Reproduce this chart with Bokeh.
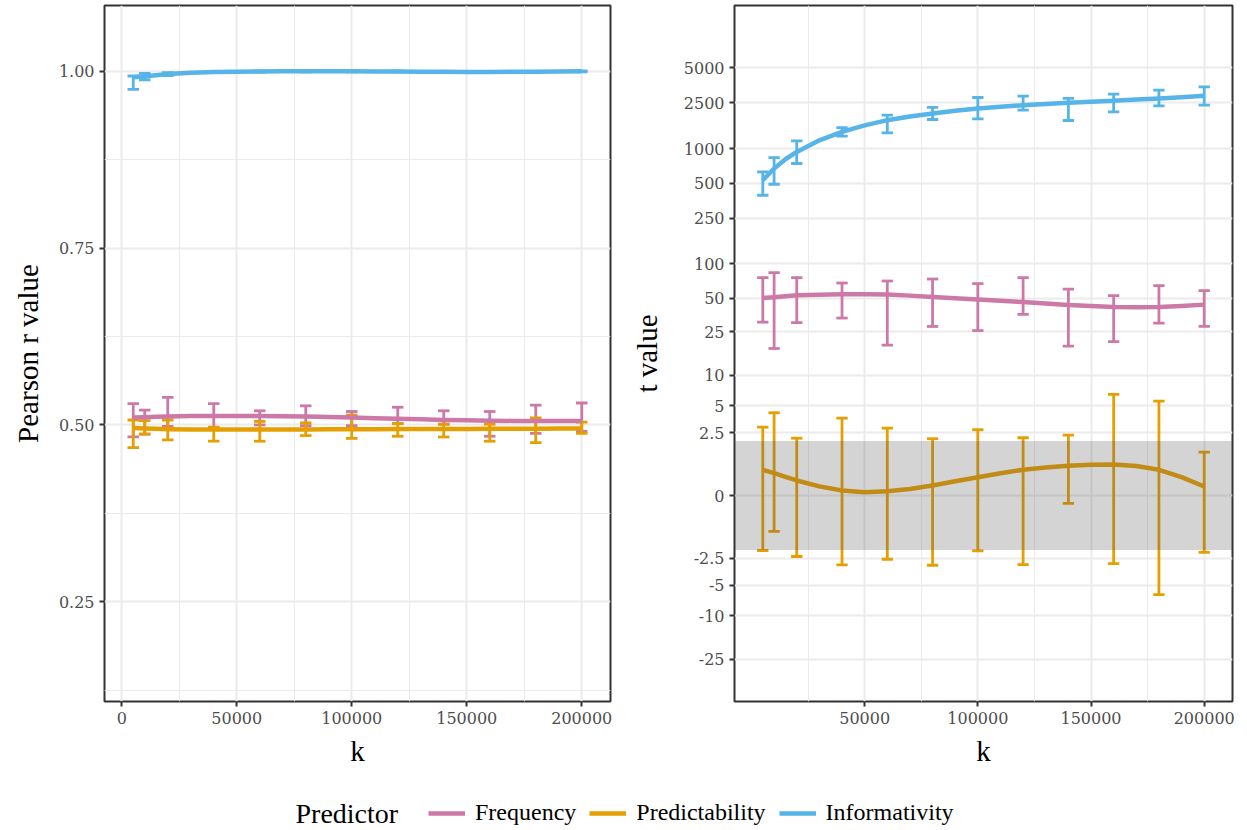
import numpy as np
from bokeh.plotting import figure
from bokeh.models import (Range1d, FixedTicker, NumeralTickFormatter, BoxAnnotation,
                          Legend, LegendItem, Label, ColumnDataSource)
from bokeh.layouts import column, row
from bokeh.embed import file_html
from bokeh.resources import INLINE

# ---------------- data ----------------
k = [5000, 10000, 20000, 40000, 60000, 80000, 100000, 120000, 140000, 160000, 180000, 200000]
predictors = ["Frequency", "Predictability", "Informativity"]
colors = {"Frequency": "#CC79A7", "Predictability": "#E69F00", "Informativity": "#56B4E9"}

# Pearson r error bars (lower / upper)
r_freq_lo = [0.483, 0.487, 0.498, 0.496, 0.500, 0.499, 0.499, 0.502, 0.501, 0.484, 0.488, 0.491]
r_freq_hi = [0.530, 0.521, 0.539, 0.530, 0.520, 0.527, 0.519, 0.525, 0.520, 0.519, 0.528, 0.531]
r_pred_lo = [0.468, 0.487, 0.479, 0.477, 0.477, 0.485, 0.481, 0.484, 0.483, 0.477, 0.475, 0.488]
r_pred_hi = [0.507, 0.506, 0.507, 0.497, 0.505, 0.503, 0.514, 0.502, 0.501, 0.501, 0.510, 0.504]
r_info_lo = [0.9745, 0.988, 0.994, 0.9985, 0.9990, 0.9992, 0.9993, 0.9993, 0.9990, 0.9988, 0.9990, 0.9993]
r_info_hi = [0.9933, 0.997, 0.998, 1.0000, 1.0005, 1.0006, 1.0006, 1.0004, 1.0000, 0.9998, 1.0000, 1.0005]

# smoothed fits
fit_k = [5000, 10000, 15000, 20000, 30000, 40000, 50000, 60000, 70000, 80000, 90000,
         100000, 110000, 120000, 130000, 140000, 150000, 160000, 170000, 180000, 190000, 200000]
r_freq_fit = [0.5104, 0.5110, 0.5115, 0.5120, 0.5125, 0.5128, 0.5128, 0.5125, 0.5122, 0.5118, 0.5112,
              0.5104, 0.5096, 0.5088, 0.5080, 0.5071, 0.5065, 0.5060, 0.5057, 0.5055, 0.5056, 0.5057]
r_pred_fit = [0.4955, 0.4950, 0.4945, 0.4940, 0.4937, 0.4935, 0.4935, 0.4935, 0.4936, 0.4937, 0.4938,
              0.4939, 0.4940, 0.4941, 0.4942, 0.4943, 0.4944, 0.4945, 0.4946, 0.4947, 0.4948, 0.4948]
r_info_fit = [0.9915, 0.9930, 0.9945, 0.9960, 0.9980, 0.9990, 0.9995, 0.9998, 1.0000, 1.0000, 1.0000,
              1.0000, 0.9998, 0.9996, 0.9994, 0.9992, 0.9991, 0.9991, 0.9992, 0.9994, 0.9997, 1.0000]

# t value error bars (lower / upper)
t_freq_lo = [30.6, 17.7, 30.3, 33.3, 19.0, 28.0, 25.7, 35.9, 18.6, 20.4, 30.0, 28.0]
t_freq_hi = [75.7, 83.7, 75.7, 67.9, 70.7, 73.6, 67.1, 75.7, 60.1, 52.6, 64.5, 58.2]
t_pred_lo = [-1.99, -1.04, -2.37, -2.98, -2.56, -3.01, -2.01, -2.96, -0.17, -2.88, -6.20, -2.10]
t_pred_hi = [2.90, 4.20, 2.13, 3.67, 2.83, 2.10, 2.71, 2.16, 2.33, 6.49, 5.55, 1.37]
t_info_lo = [395, 492, 744, 1282, 1370, 1789, 1811, 2154, 1754, 2083, 2348, 2380]
t_info_hi = [629, 838, 1168, 1524, 1949, 2274, 2774, 2849, 2721, 2963, 3209, 3429]

t_freq_fit = [50.1, 51.0, 52.0, 52.9, 53.6, 54.0, 54.0, 53.7, 52.6, 51.1, 49.8,
              48.5, 47.3, 46.2, 44.8, 43.5, 42.5, 41.7, 41.5, 41.7, 42.6, 43.8]
t_pred_fit = [0.669, 0.56, 0.45, 0.349, 0.20, 0.105, 0.068, 0.089, 0.14, 0.221, 0.33,
              0.44, 0.56, 0.669, 0.75, 0.807, 0.845, 0.855, 0.80, 0.669, 0.44, 0.196]
t_info_fit = [533, 674, 810, 937, 1180, 1398, 1590, 1765, 1900, 2018, 2130,
              2230, 2310, 2380, 2440, 2494, 2545, 2594, 2660, 2722, 2790, 2866]

T_CRIT = 1.96
t_tick_values = [-25, -10, -5, -2.5, 0, 2.5, 5, 10, 25, 50, 100, 250, 500, 1000, 2500, 5000]
t_tick_labels = ["-25", "-10", "-5", "-2.5", "0", "2.5", "5", "10", "25", "50", "100", "250",
                 "500", "1000", "2500", "5000"]
r_ticks = [0.25, 0.50, 0.75, 1.00]
r_minor = [0.125, 0.375, 0.625, 0.875]
k_ticks_left = [0, 50000, 100000, 150000, 200000]
k_ticks_right = [50000, 100000, 150000, 200000]
k_minor = [25000, 75000, 125000, 175000]

ERR_WIDTH = 5000  # errorbar cap width in k units


def tr(v):
    v = np.asarray(v, dtype=float)
    return np.sign(v) * np.log10(1.0 + np.abs(v))


TICK_FONT = "DejaVu Serif"
TITLE_FONT = "Liberation Serif"


def style(p, ylab, ystandoff):
    p.outline_line_color = "#333333"
    p.outline_line_width = 2
    p.background_fill_color = "white"
    p.border_fill_color = "white"
    for ax in p.axis:
        ax.axis_line_color = None
        ax.major_tick_line_color = "#333333"
        ax.major_tick_line_width = 2
        ax.major_tick_out = 5
        ax.major_tick_in = 0
        ax.minor_tick_line_color = None
        ax.major_label_text_font = TICK_FONT
        ax.major_label_text_font_size = "16px"
        ax.major_label_text_color = "#4D4D4D"
        ax.major_label_standoff = 5
        ax.axis_label_text_font = TITLE_FONT
        ax.axis_label_text_font_size = "29px"
        ax.axis_label_text_font_style = "normal"
        ax.axis_label_text_color = "black"
    p.xaxis.axis_label = "k"
    p.xaxis.axis_label_standoff = 8
    p.yaxis.axis_label = ylab
    p.yaxis.axis_label_standoff = ystandoff
    for g in p.grid:
        g.grid_line_color = "#EBEBEB"
        g.grid_line_width = 2


def draw(p, data):
    # error bars first (all groups), then smooth lines
    for name in predictors:
        lo, hi = data[name][0], data[name][1]
        c = colors[name]
        src = ColumnDataSource(dict(k=k, lo=lo, hi=hi,
                                    kl=[x - ERR_WIDTH / 2 for x in k],
                                    kr=[x + ERR_WIDTH / 2 for x in k]))
        p.segment(x0="k", y0="lo", x1="k", y1="hi", source=src, line_color=c, line_width=2.8)
        p.segment(x0="kl", y0="lo", x1="kr", y1="lo", source=src, line_color=c, line_width=2.8)
        p.segment(x0="kl", y0="hi", x1="kr", y1="hi", source=src, line_color=c, line_width=2.8)
    for name in predictors:
        p.line(fit_k, data[name][2], line_color=colors[name], line_width=4.5, line_join="round")


# ---------------- left panel ----------------
p1 = figure(width=620, height=775, x_range=Range1d(-7500, 212500), y_range=Range1d(0.109, 1.093),
            toolbar_location=None, output_backend="svg",
            min_border_left=104, min_border_right=10, min_border_top=5, min_border_bottom=74)
style(p1, "Pearson r value", 12)
p1.xaxis.ticker = FixedTicker(ticks=k_ticks_left, minor_ticks=k_minor)
p1.xaxis.formatter = NumeralTickFormatter(format="0")
p1.yaxis.ticker = FixedTicker(ticks=r_ticks, minor_ticks=r_minor)
p1.yaxis.formatter = NumeralTickFormatter(format="0.00")
p1.xgrid.minor_grid_line_color = "#EBEBEB"
p1.xgrid.minor_grid_line_width = 1
p1.ygrid.minor_grid_line_color = "#EBEBEB"
p1.ygrid.minor_grid_line_width = 1

draw(p1, {
    "Frequency": (r_freq_lo, r_freq_hi, r_freq_fit),
    "Predictability": (r_pred_lo, r_pred_hi, r_pred_fit),
    "Informativity": (r_info_lo, r_info_hi, r_info_fit),
})

# ---------------- right panel ----------------
p2 = figure(width=627, height=775, x_range=Range1d(-7500, 212500), y_range=Range1d(-1.782, 4.239),
            toolbar_location=None, output_backend="svg",
            min_border_left=114, min_border_right=15, min_border_top=5, min_border_bottom=74)
style(p2, "t value", 18)
p2.xaxis.ticker = FixedTicker(ticks=k_ticks_right, minor_ticks=k_minor)
p2.xaxis.formatter = NumeralTickFormatter(format="0")
t_tick_pos = [float(v) for v in tr(t_tick_values)]
p2.yaxis.ticker = FixedTicker(ticks=t_tick_pos)
p2.yaxis.major_label_overrides = {pos: lab for pos, lab in zip(t_tick_pos, t_tick_labels)}
p2.xgrid.minor_grid_line_color = "#EBEBEB"
p2.xgrid.minor_grid_line_width = 1

draw(p2, {
    "Frequency": (list(tr(t_freq_lo)), list(tr(t_freq_hi)), list(tr(t_freq_fit))),
    "Predictability": (list(tr(t_pred_lo)), list(tr(t_pred_hi)), list(tr(t_pred_fit))),
    "Informativity": (list(tr(t_info_lo)), list(tr(t_info_hi)), list(tr(t_info_fit))),
})

band = BoxAnnotation(bottom=float(tr(-T_CRIT)), top=float(tr(T_CRIT)),
                     fill_color="#555555", fill_alpha=0.25, line_color=None)
p2.add_layout(band)

# ---------------- legend ----------------
leg = figure(width=1247, height=55, x_range=Range1d(0, 1247), y_range=Range1d(0, 55),
             toolbar_location=None, output_backend="svg", x_axis_type=None, y_axis_type=None,
             min_border_left=0, min_border_right=0, min_border_top=0, min_border_bottom=0)
leg.grid.visible = False
leg.outline_line_color = None
items = []
for name in predictors:
    # legend-only renderer: its (off-screen) points are never visible
    r = leg.line(x=[-200, -100], y=[-200, -200], line_color=colors[name], line_width=4.5)
    items.append(LegendItem(label=name, renderers=[r]))
legend = Legend(items=items, orientation="horizontal", location=(428, 4),
                glyph_width=37, glyph_height=24, label_height=24, label_standoff=10, spacing=13,
                padding=0, margin=0, border_line_color=None, background_fill_alpha=0,
                label_text_font=TITLE_FONT, label_text_font_size="24px", label_text_color="black")
leg.add_layout(legend)
leg.add_layout(Label(x=295, y=17, text="Predictor", text_font=TITLE_FONT, text_font_size="28px",
                     text_baseline="middle", text_align="left", text_color="black"))

layout = column(row(p1, p2), leg)
open("out.html", "w").write(file_html(layout, INLINE))
